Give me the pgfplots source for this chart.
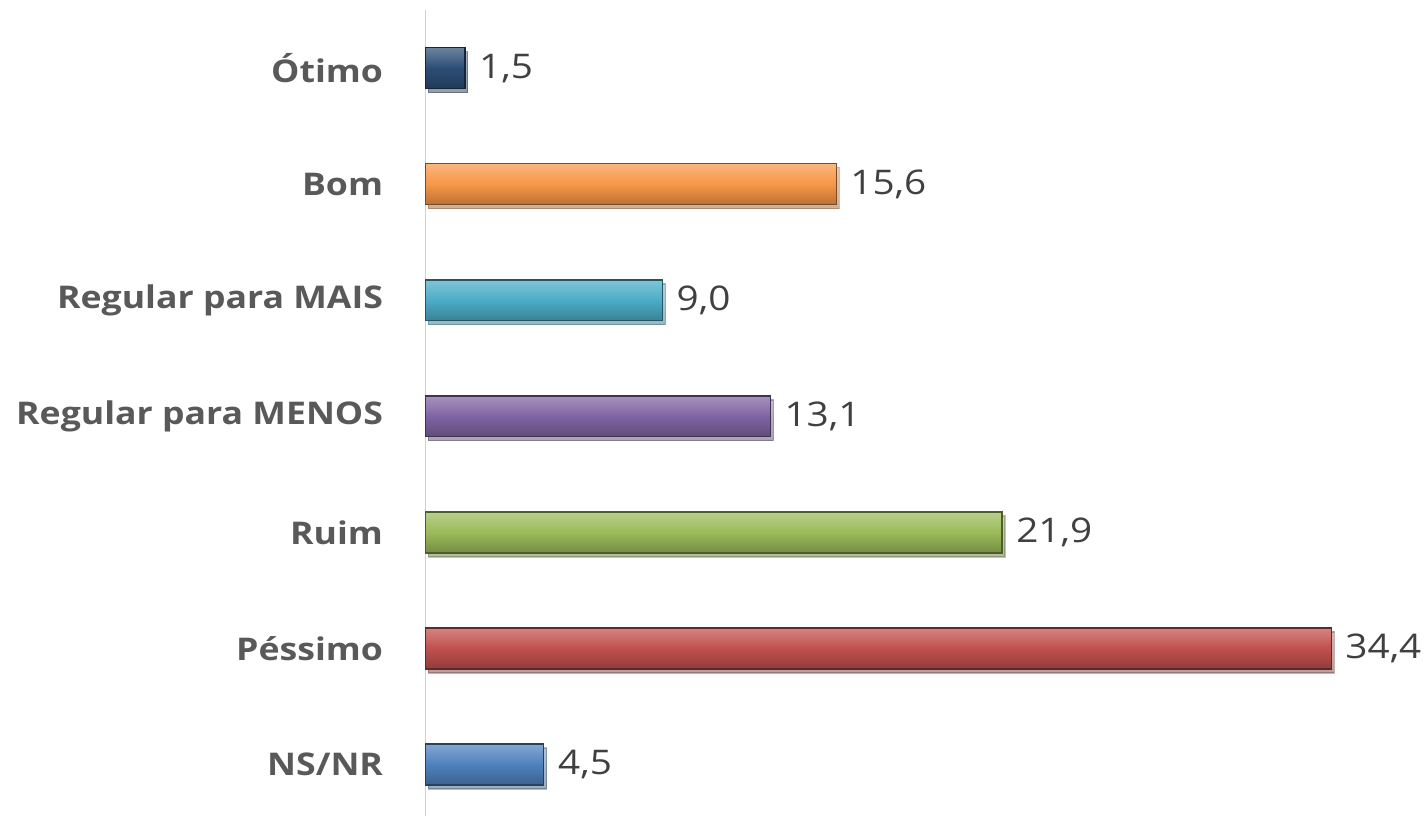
\documentclass[border=0pt]{standalone}
\usepackage{fontspec}
\setmainfont[FakeStretch=1.14]{Open Sans}
\usepackage{pgfplots}
\pgfplotsset{compat=1.18}
\usetikzlibrary{shadows}
\definecolor{cOt}{HTML}{2C4D75}
\definecolor{cBom}{HTML}{F79646}
\definecolor{cMais}{HTML}{4BACC6}
\definecolor{cMenos}{HTML}{8064A2}
\definecolor{cRuim}{HTML}{9BBB59}
\definecolor{cPes}{HTML}{C0504D}
\definecolor{cNs}{HTML}{4F81BD}
\definecolor{lbl}{HTML}{595959}
\definecolor{val}{HTML}{404040}
\pgfplotsset{
  bev/.style={draw=#1!50!black, top color=#1!70!white, bottom color=#1!75!black, middle color=#1,
    drop shadow={opacity=0.35, shadow xshift=1.5pt, shadow yshift=-2pt}},
}
\begin{document}
\begin{tikzpicture}
\begin{axis}[
  xbar, bar shift=0pt, bar width=20.5pt,
  scale only axis, width=501pt, height=403.5pt,
  xmin=0, xmax=38, ymin=-0.443, ymax=6.503,
  axis x line=none,
  axis y line*=left,
  y axis line style={draw=black!18, line width=0.8pt},
  ytick={0,1,2,3,4,5,6},
  yticklabels={NS/NR,Péssimo,Ruim,Regular para MENOS,Regular para MAIS,Bom,Ótimo},
  major tick length=0pt,
  yticklabel style={font=\fontsize{15.65}{18}\selectfont\bfseries, text=lbl, xshift=-17.7pt},
  nodes near coords,
  nodes near coords style={font=\fontsize{17}{20}\selectfont, text=val, xshift=3.5pt,
    /pgf/number format/.cd, use comma, fixed, fixed zerofill, precision=1, assume math mode=true},
  every axis plot/.append style={line width=0.6pt},
  clip=false,
]
\addplot[bev=cOt] coordinates {(1.5,6)};
\addplot[bev=cBom] coordinates {(15.6,5)};
\addplot[bev=cMais] coordinates {(9.0,4)};
\addplot[bev=cMenos] coordinates {(13.1,3)};
\addplot[bev=cRuim] coordinates {(21.9,2)};
\addplot[bev=cPes] coordinates {(34.4,1)};
\addplot[bev=cNs] coordinates {(4.5,0)};
\end{axis}
\path (current axis.north west) ++(-213pt,5pt);
\end{tikzpicture}
\end{document}
